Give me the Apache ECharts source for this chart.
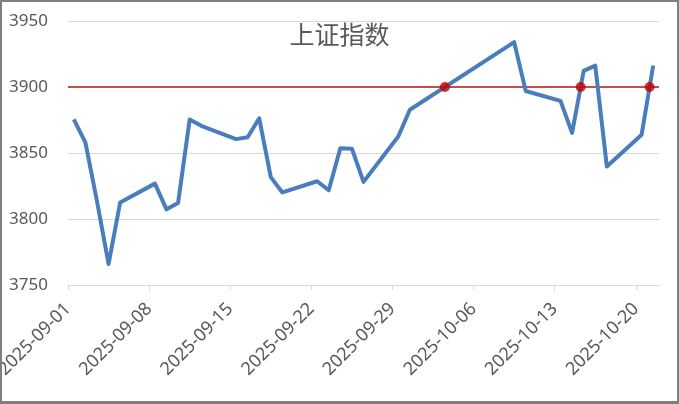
<!DOCTYPE html>
<html>
<head>
<meta charset="utf-8">
<script src="https://cdn.jsdelivr.net/npm/echarts@6/dist/echarts.min.js"></script>
<style>
html,body{margin:0;padding:0;background:#fff;}
#wrap{position:relative;width:679px;height:404px;}
#chart{position:absolute;left:0;top:0;width:679px;height:404px;}
#frame{position:absolute;left:0;top:0;width:679px;height:404px;box-sizing:border-box;border:2px solid #7f7f7f;border-bottom-width:3px;pointer-events:none;}
</style>
</head>
<body>
<div id="wrap"><div id="chart"></div><div id="frame"></div></div>
<script>
// Trading dates and closing values
const dates = [
  '2025-09-01','2025-09-02','2025-09-03','2025-09-04','2025-09-05',
  '2025-09-08','2025-09-09','2025-09-10','2025-09-11','2025-09-12',
  '2025-09-15','2025-09-16','2025-09-17','2025-09-18','2025-09-19',
  '2025-09-22','2025-09-23','2025-09-24','2025-09-25','2025-09-26',
  '2025-09-29','2025-09-30','2025-10-09','2025-10-10',
  '2025-10-13','2025-10-14','2025-10-15','2025-10-16','2025-10-17',
  '2025-10-20','2025-10-21'
];
const closes = [
  3875.5, 3858.1, 3813.6, 3765.9, 3812.5,
  3826.8, 3807.3, 3812.2, 3875.3, 3870.6,
  3860.5, 3861.9, 3876.3, 3831.7, 3820.1,
  3828.6, 3821.8, 3853.6, 3853.3, 3828.1,
  3862.5, 3882.8, 3934.0, 3897.0,
  3889.5, 3865.2, 3912.2, 3916.2, 3839.8,
  3863.9, 3916.3
];
const threshold = 3900;
const yTicks = [3750, 3800, 3850, 3900, 3950];
const xTickDays = [0, 7, 14, 21, 28, 35, 42, 49];
const startDate = '2025-09-01';
const endDate = '2025-10-22';
const title = '上证指数';

function dayIndex(s) {
  const p = s.split('-').map(Number), q = startDate.split('-').map(Number);
  return (Date.UTC(p[0], p[1]-1, p[2]) - Date.UTC(q[0], q[1]-1, q[2])) / 86400000;
}
function dayLabel(v) {
  const q = startDate.split('-').map(Number);
  const d = new Date(Date.UTC(q[0], q[1]-1, q[2]) + v*86400000);
  const mm = String(d.getUTCMonth()+1).padStart(2,'0');
  const dd = String(d.getUTCDate()).padStart(2,'0');
  return d.getUTCFullYear() + '-' + mm + '-' + dd;
}

const lineData = dates.map((d, i) => [dayIndex(d) + 0.5, closes[i]]);
// upward crossings of the threshold line
const crossData = [];
for (let i = 1; i < lineData.length; i++) {
  const a = lineData[i-1], b = lineData[i];
  if (a[1] < threshold && b[1] >= threshold) {
    const f = (threshold - a[1]) / (b[1] - a[1]);
    crossData.push([a[0] + f*(b[0]-a[0]), threshold]);
  }
}

const txt = '#595959';
const chart = echarts.init(document.getElementById('chart'), null, {renderer:'canvas'});
chart.setOption({
  animation: false,
  backgroundColor: '#fff',
  title: {
    text: title, left: 'center', top: 17,
    textStyle: {fontSize: 25, fontWeight: 'normal', color: txt, fontFamily: 'Noto Sans CJK SC'}
  },
  grid: {left: 68, right: 20, top: 21, bottom: 119, containLabel: false, outerBoundsMode: 'none'},
  xAxis: {
    type: 'value', min: 0, max: dayIndex(endDate), interval: 7,
    splitLine: {show: false},
    axisLine: {show: true, lineStyle: {color: '#d9d9d9', width: 1}},
    axisTick: {show: true, length: 5, lineStyle: {color: '#d9d9d9'}, customValues: xTickDays},
    axisLabel: {
      customValues: xTickDays, rotate: 45, margin: 21,
      color: txt, fontSize: 18, fontFamily: 'Noto Sans',
      formatter: v => dayLabel(v)
    }
  },
  yAxis: {
    type: 'value', min: yTicks[0], max: yTicks[yTicks.length-1], interval: 50,
    axisLine: {show: false}, axisTick: {show: false},
    splitLine: {lineStyle: {color: '#d9d9d9', width: 1}},
    axisLabel: {color: txt, fontSize: 17, margin: 20, fontFamily: 'Noto Sans', formatter: v => String(v)}
  },
  series: [
    {
      type: 'line', data: lineData, showSymbol: false, symbol: 'none',
      lineStyle: {color: '#4a7dbb', width: 4, join: 'round'},
      z: 3,
      markLine: {
        silent: true, symbol: 'none', label: {show: false},
        lineStyle: {color: '#c0504d', width: 2, type: 'solid'},
        data: [{yAxis: threshold}],
        z: 2
      }
    },
    {
      type: 'scatter', data: crossData, symbol: 'circle', symbolSize: 10,
      itemStyle: {color: '#c00000'}, z: 5
    }
  ]
});
</script>
</body>
</html>
